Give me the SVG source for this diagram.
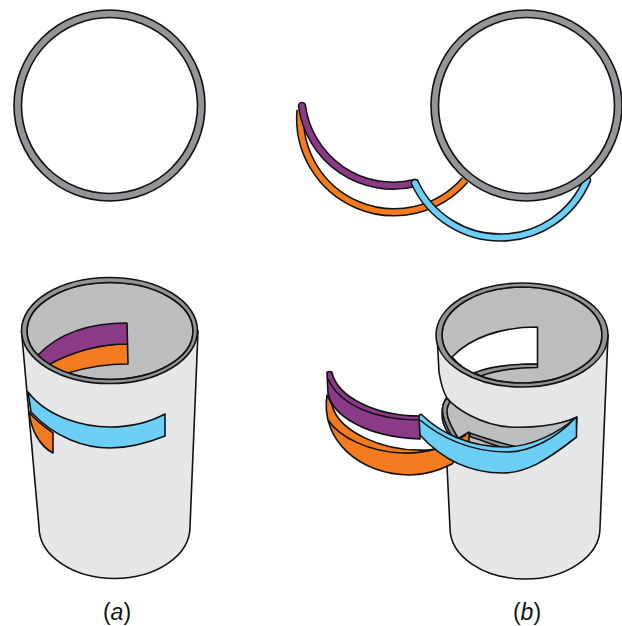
<svg xmlns="http://www.w3.org/2000/svg" width="622" height="626" viewBox="0 0 622 626">
<style>
.e{stroke:#111;stroke-width:1.600;stroke-linejoin:round}
.ring{fill:#939598;fill-rule:evenodd}
.body{fill:#e6e7e8}
.in{fill:#bcbec0}
.pu{fill:#8a3a86}.or{fill:#f47b20}.bl{fill:#6dcff6}
.rb{fill:none;stroke:#111;stroke-width:8.500}
.pc{fill:none;stroke:#8a3a86;stroke-width:5.500}
.oc{fill:none;stroke:#f47b20;stroke-width:5.500}
.bc{fill:none;stroke:#6dcff6;stroke-width:5.500}
.l{fill:none;stroke:#111;stroke-width:1.600}
text{font-family:"Liberation Sans",Arial,sans-serif;font-size:23px;fill:#111}
</style>
<g id="ring-a"><path class="e ring" d="M14,105.500a95.500,95.500 0 1,0 191,0a95.500,95.500 0 1,0 -191,0ZM21.500,105.500a88,88 0 1,0 176,0a88,88 0 1,0 -176,0Z"/></g>
<g id="ribbons-top">
<path class="rb" d="M300.500,110A94,94 0 0 0 465,180"/><path class="oc" d="M300.500,110A94,94 0 0 0 465,180"/>
<path class="rb" d="M302,106A92,92 0 0 0 415,183" stroke-linecap="round"/><path class="pc" d="M302,106A92,92 0 0 0 415,183" stroke-linecap="round"/>
<path class="rb" d="M415,183A94,94 0 0 0 587,180" stroke-linecap="round"/><path class="bc" d="M415,183A94,94 0 0 0 587,180" stroke-linecap="round"/>
</g>
<g id="ring-b"><path class="e ring" d="M431,105.500a95.500,95.500 0 1,0 191,0a95.500,95.500 0 1,0 -191,0ZM438.500,105.500a88,88 0 1,0 176,0a88,88 0 1,0 -176,0Z"/></g>
<g id="cylinder-a">
<path class="e body" d="M21.500,331L39,527A75.500,51.500 0 0 0 190,527L198,331Z"/>
<path class="e in" d="M27,331a83,48.500 0 1,0 166,0a83,48.500 0 1,0 -166,0Z"/>
<path class="e or" d="M48,365C70,353 95,344 127.500,344L128,364C105,364 84,368 68,373C60,371 54,368 48,365Z"/>
<path class="e pu" d="M38,355C60,332 90,323 127,323L127.500,344C95,344 70,353 48,365C44,362 41,358 38,355Z"/>
<path class="e ring" d="M21.500,330.500a88,53 0 1,0 176,0a88,53 0 1,0 -176,0ZM27,331a83,48.500 0 1,0 166,0a83,48.500 0 1,0 -166,0Z"/>
<path class="e or" d="M29,412C31,428 38,445 53,453L53,433C42,425 35,420 29,412Z"/>
<path class="e bl" d="M28,392C48,418 85,427 110,427C130,427 150,422 165,414L165,436C145,444 125,448 110,448C85,448 55,438 31,412C30,405 29,398 28,392Z"/>
</g>
<g id="cylinder-b">
<ellipse class="e in" cx="520" cy="414" rx="78" ry="48"/>
<path class="e ring" d="M447,398C440,405 440,418 455,441L458,438C447,420 444,410 450,402Z"/>
<path class="e ring" d="M470,433C485,438 510,447 530,449L530,453C510,452 490,443 470,436.500Z"/>
<path class="e body" d="M437,335L439,372C441,385 444,393 447,398C455,408 480,425 510,427C530,428 558,426 577,417L576,432Q510,475 460,445L446,445L450,528A75,51 0 0 0 600,528L608,335Z"/>
<ellipse class="e in" cx="522" cy="335" rx="80" ry="48"/>
<path class="e" fill="#fff" d="M452,357C470,338 500,327 537.500,327L537.500,364C510,364 490,368 475,375C465,370 458,364 452,357Z"/>
<path class="e ring" d="M474,373C490,366 510,364 537.500,364L537.500,367.500C515,367.500 497,370 481,376Z"/>
<path class="e ring" d="M436,335a86,52 0 1,0 172,0a86,52 0 1,0 -172,0ZM442,335a80,48 0 1,0 160,0a80,48 0 1,0 -160,0Z"/>
</g>
<g id="ribbons-b">
<path class="e or" d="M327,395C320,440 360,475 410,475C425,475 440,470 452,464L469,443L469,432L456,440C445,447 437,450 427,450C380,452 338,430 332,405Z"/>
<path class="l" d="M328,420C340,438 370,452 403,453C425,454 445,448 466,435"/>
<path class="e pu" d="M327,373C327,371 332,371 332,373C338,397 375,416 420,416L420,439C365,437 332,415 328,393Z"/>
<path class="l" d="M328,379C340,405 375,420 420,420"/>
<path class="e bl" d="M419,417C419,414 421,414 422,415C440,433 470,447 505,447C530,447 557,434 576.500,417L576.500,437C545,462 525,473 503,473C465,473 438,455 420,435Z"/>
<path class="l" d="M420,420C440,437 470,452 507,452C530,452 557,438 575,418"/>
</g>
<g id="labels">
<text x="117" y="620" text-anchor="middle">(<tspan font-style="italic">a</tspan>)</text>
<text x="527" y="620" text-anchor="middle">(<tspan font-style="italic">b</tspan>)</text>
</g>
</svg>
